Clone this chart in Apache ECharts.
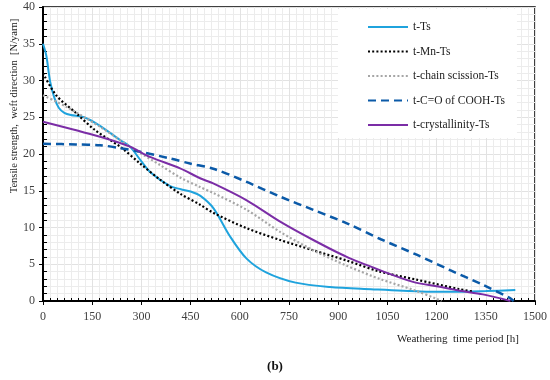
<!DOCTYPE html>
<html><head><meta charset="utf-8">
<script src="https://cdn.jsdelivr.net/npm/echarts@6/dist/echarts.min.js"></script>
<style>html,body{margin:0;padding:0;background:#fff}#c{width:550px;height:380px}</style>
</head><body><div id="c"></div>
<script>
// ---- data (hours, tensile strength) ----
const seriesNames = ['t-Ts', 't-Mn-Ts', 't-chain scission-Ts', 't-C=O of COOH-Ts', 't-crystallinity-Ts'];

const tsHours  = [0, 10, 22, 35, 48, 65, 85, 125, 175, 235, 265, 300, 330, 385, 420, 450, 480, 520, 570, 620, 680, 770, 875, 1000, 1150, 1250, 1350, 1440];
const tsValues = [35.0, 33.4, 29.8, 27.6, 26.3, 25.6, 25.3, 25.0, 23.8, 21.9, 21.0, 19.0, 17.4, 15.7, 15.2, 14.9, 14.3, 12.6, 8.8, 5.8, 3.9, 2.5, 1.9, 1.6, 1.3, 1.25, 1.35, 1.5];

const mnHours  = [0, 40, 100, 160, 235, 296, 357, 418, 479, 519, 621, 723, 824, 926, 1027, 1139, 1271, 1310];
const mnValues = [31.0, 28.0, 25.6, 23.2, 21.0, 18.7, 16.5, 14.6, 13.1, 12.0, 9.9, 8.3, 6.9, 5.5, 4.0, 2.9, 1.6, 1.3];

const csHours  = [0, 72, 174, 265, 357, 418, 479, 519, 621, 723, 824, 926, 1027, 1130, 1200, 1215];
const csValues = [28.0, 26.4, 23.7, 21.0, 18.5, 16.8, 15.5, 14.7, 12.4, 9.4, 6.9, 4.8, 3.0, 1.5, 0.3, 0.0];

const coHours  = [0, 100, 174, 235, 296, 387, 448, 519, 621, 723, 824, 930, 1030, 1139, 1241, 1341, 1424, 1435];
const coValues = [21.4, 21.3, 21.2, 20.8, 20.3, 19.4, 18.7, 18.0, 16.2, 14.2, 12.4, 10.5, 8.4, 6.3, 4.2, 2.2, 0.4, 0.0];

const crHours  = [0, 174, 265, 326, 418, 479, 519, 621, 723, 824, 926, 1027, 1128, 1200, 1271, 1341, 1425];
const crValues = [24.4, 22.35, 21.0, 19.6, 18.05, 16.7, 16.0, 13.7, 10.8, 8.3, 6.0, 4.2, 2.6, 2.0, 1.4, 0.9, 0.0];

const xMin = 0, xMax = 1500, xStep = 150;
const yMin = 0, yMax = 40, yStep = 5;

function zip(xs, ys) { return xs.map((x, i) => [x, ys[i]]); }

const FONT = '"Liberation Serif", "DejaVu Serif", serif';
const chart = echarts.init(document.getElementById('c'), null, {renderer: 'canvas'});

function lineSeries(name, xs, ys, color, width, type) {
  return {
    name: name, type: 'line', data: zip(xs, ys),
    xAxisIndex: 0, yAxisIndex: 0,
    symbol: 'none', smooth: 0.3,
    lineStyle: {color: color, width: width, type: type, cap: 'butt'},
    itemStyle: {color: color},
    emphasis: {disabled: true}, animation: false
  };
}

chart.setOption({
  animation: false,
  backgroundColor: '#fff',
  grid: {left: 43, right: 15, top: 7, bottom: 79, show: true, borderColor: '#000', borderWidth: 1.5, backgroundColor: 'transparent'},
  legend: {
    orient: 'vertical', left: 338, top: 9,
    padding: [12, 12, 7, 29],
    backgroundColor: '#fff',
    itemWidth: 40, itemHeight: 14, itemGap: 12.5,
    itemStyle: {opacity: 0},
    textStyle: {fontFamily: FONT, fontSize: 11.5, color: '#222'},
    data: seriesNames
  },
  xAxis: [{
    type: 'value', min: xMin, max: xMax, interval: xStep, position: 'bottom',
    axisLine: {show: true, onZero: false, lineStyle: {color: '#000', width: 2}},
    axisTick: {show: true, inside: false, length: 4, lineStyle: {color: '#000', width: 1}},
    axisLabel: {fontFamily: FONT, fontSize: 12, color: '#404040', margin: 10, formatter: v => String(v)},
    splitLine: {show: false}
  }, {
    type: 'value', min: xMin, max: xMax, interval: xStep, position: 'bottom',
    axisLine: {show: false}, axisLabel: {show: false},
    axisTick: {show: false, inside: true},
    minorTick: {show: true, splitNumber: 7, length: 3, lineStyle: {color: '#000', width: 1}},
    splitLine: {show: true, lineStyle: {color: '#e2e2e2', width: 1}},
    minorSplitLine: {show: true, lineStyle: {color: '#ececec', width: 1}}
  }],
  yAxis: [{
    type: 'value', min: yMin, max: yMax, interval: yStep, position: 'left',
    axisLine: {show: true, onZero: false, lineStyle: {color: '#000', width: 2}},
    axisTick: {show: true, inside: false, length: 4, lineStyle: {color: '#000', width: 1}},
    axisLabel: {fontFamily: FONT, fontSize: 12, color: '#404040', margin: 8, formatter: v => String(v)},
    splitLine: {show: false}
  }, {
    type: 'value', min: yMin, max: yMax, interval: yStep, position: 'left', offset: 0,
    axisLine: {show: false}, axisLabel: {show: false},
    axisTick: {show: false, inside: true},
    minorTick: {show: true, splitNumber: 5, length: 4, lineStyle: {color: '#000', width: 1}},
    splitLine: {show: true, lineStyle: {color: '#e2e2e2', width: 1}},
    minorSplitLine: {show: true, lineStyle: {color: '#ececec', width: 1}}
  }],
  graphic: [{
    type: 'text', x: 14, y: 106, rotation: Math.PI / 2,
    style: {text: 'Tensile strength,  weft direction  [N/yarn]', fontFamily: FONT, fontSize: 10.5, fill: '#222', align: 'center', verticalAlign: 'middle'}
  }, {
    type: 'text', x: 519, y: 339,
    style: {text: 'Weathering  time period [h]', fontFamily: FONT, fontSize: 11, fill: '#222', align: 'right', verticalAlign: 'middle'}
  }, {
    type: 'text', x: 275, y: 367,
    style: {text: '(b)', fontFamily: FONT, fontSize: 13, fontWeight: 'bold', fill: '#111', align: 'center', verticalAlign: 'middle'}
  }],
  series: [
    lineSeries(seriesNames[0], tsHours, tsValues, '#1fa3dd', 2, 'solid'),
    lineSeries(seriesNames[1], mnHours, mnValues, '#000000', 2.2, [2, 2.2]),
    lineSeries(seriesNames[2], csHours, csValues, '#a6a6a6', 2.2, [2, 2.2]),
    lineSeries(seriesNames[3], coHours, coValues, '#0b5aa8', 2.5, [8, 5]),
    lineSeries(seriesNames[4], crHours, crValues, '#7b2da6', 2, 'solid')
  ]
});
</script></body></html>
